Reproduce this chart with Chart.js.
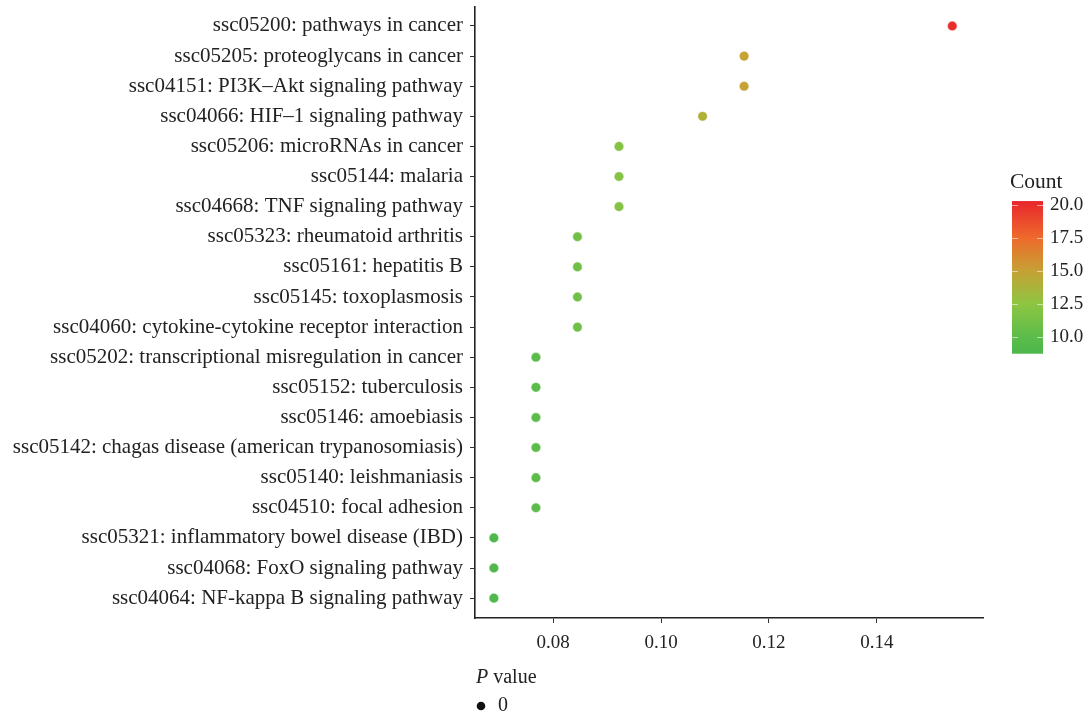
<!DOCTYPE html>
<html>
<head>
<meta charset="utf-8">
<script src="https://cdn.jsdelivr.net/npm/chart.js@4.4.1/dist/chart.umd.min.js"></script>
<style>
  html, body { margin: 0; padding: 0; background: #fff; }
  #wrap { position: relative; width: 1089px; height: 718px; }
  canvas { display: block; }
</style>
</head>
<body>
<div id="wrap"><canvas id="c" width="1089" height="718"></canvas></div>
<script>
// ---------------- DATA ----------------
const categories = [
  "ssc05200: pathways in cancer",
  "ssc05205: proteoglycans in cancer",
  "ssc04151: PI3K\u2013Akt signaling pathway",
  "ssc04066: HIF\u20131 signaling pathway",
  "ssc05206: microRNAs in cancer",
  "ssc05144: malaria",
  "ssc04668: TNF signaling pathway",
  "ssc05323: rheumatoid arthritis",
  "ssc05161: hepatitis B",
  "ssc05145: toxoplasmosis",
  "ssc04060: cytokine-cytokine receptor interaction",
  "ssc05202: transcriptional misregulation in cancer",
  "ssc05152: tuberculosis",
  "ssc05146: amoebiasis",
  "ssc05142: chagas disease (american trypanosomiasis)",
  "ssc05140: leishmaniasis",
  "ssc04510: focal adhesion",
  "ssc05321: inflammatory bowel disease (IBD)",
  "ssc04068: FoxO signaling pathway",
  "ssc04064: NF-kappa B signaling pathway"
];
const xValues = [0.1540, 0.1154, 0.1154, 0.1077, 0.0922, 0.0922, 0.0922, 0.0845, 0.0845, 0.0845, 0.0845,
                 0.0768, 0.0768, 0.0768, 0.0768, 0.0768, 0.0768, 0.0690, 0.0690, 0.0690];
const counts = [20, 15, 15, 14, 12, 12, 12, 11, 11, 11, 11, 10, 10, 10, 10, 10, 10, 9, 9, 9];
const xTickValues = [0.08, 0.10, 0.12, 0.14];
const countTicks = [20.0, 17.5, 15.0, 12.5, 10.0];
const colorStopValues = [8.7, 10, 12.5, 15, 17.5, 20.3];
const colorStopColors = ["#4cb74d", "#5cbc4a", "#8ec542", "#c6a134", "#ee6a2c", "#e8262c"];
const pLegendLabels = ["0"];

// ---------------- HELPERS ----------------
function hexToRgb(h) { const n = parseInt(h.slice(1), 16); return [(n >> 16) & 255, (n >> 8) & 255, n & 255]; }
function colorFor(v) {
  for (let i = 0; i < colorStopValues.length - 1; i++) {
    const a = colorStopValues[i], b = colorStopValues[i + 1];
    if (v <= b || i === colorStopValues.length - 2) {
      const t = Math.max(0, Math.min(1, (v - a) / (b - a)));
      const c1 = hexToRgb(colorStopColors[i]), c2 = hexToRgb(colorStopColors[i + 1]);
      const c = c1.map((x, k) => Math.round(x + (c2[k] - x) * t));
      return `rgb(${c[0]},${c[1]},${c[2]})`;
    }
  }
}

const FONT = "'Liberation Serif', 'DejaVu Serif', serif";
const TEXT = "#222";
Chart.defaults.font.family = FONT;
Chart.defaults.font.size = 19;
Chart.defaults.color = TEXT;

const points = xValues.map((x, i) => ({ x: x, y: i }));
const pointColors = counts.map(colorFor);

// Legend plugin: colour bar for Count and P value key
const legendPlugin = {
  id: 'legends',
  afterDraw(chart) {
    const ctx = chart.ctx;
    ctx.save();
    // Count colour bar
    const barX = 1012, barW = 31;
    const v2y = v => 205 + (20 - v) * 13.16;
    const top = v2y(colorStopValues[colorStopValues.length - 1]);
    const bot = v2y(colorStopValues[0]);
    const g = ctx.createLinearGradient(0, bot, 0, top);
    colorStopValues.forEach((v, i) => g.addColorStop((v - colorStopValues[0]) / (colorStopValues[colorStopValues.length - 1] - colorStopValues[0]), colorStopColors[i]));
    ctx.fillStyle = g;
    ctx.fillRect(barX, top, barW, bot - top);
    ctx.strokeStyle = 'rgba(255,255,255,0.55)';
    ctx.lineWidth = 1;
    countTicks.forEach(v => {
      const y = Math.round(v2y(v)) + 0.5;
      ctx.beginPath();
      ctx.moveTo(barX, y); ctx.lineTo(barX + 6, y);
      ctx.moveTo(barX + barW - 6, y); ctx.lineTo(barX + barW, y);
      ctx.stroke();
    });
    ctx.fillStyle = TEXT;
    ctx.textBaseline = 'middle';
    ctx.textAlign = 'left';
    ctx.font = `21.5px ${FONT}`;
    ctx.fillText('Count', 1010, 182);
    ctx.font = `19px ${FONT}`;
    countTicks.forEach(v => ctx.fillText(v.toFixed(1), 1050, v2y(v)));

    // P value legend
    ctx.font = `italic 20px ${FONT}`;
    const pw = ctx.measureText('P').width;
    ctx.fillText('P', 476, 678);
    ctx.font = `20px ${FONT}`;
    ctx.fillText(' value', 476 + pw, 678);
    pLegendLabels.forEach((lab, i) => {
      const y = 706 + i * 26;
      ctx.beginPath();
      ctx.arc(481, y, 4.3, 0, Math.PI * 2);
      ctx.fillStyle = '#111';
      ctx.fill();
      ctx.fillStyle = TEXT;
      ctx.fillText(lab, 498, y);
    });
    ctx.restore();
  }
};

new Chart(document.getElementById('c'), {
  type: 'scatter',
  data: {
    datasets: [{
      data: points,
      pointRadius: 4.3,
      pointHoverRadius: 4.3,
      pointBackgroundColor: pointColors,
      pointBorderColor: pointColors.map(c => c.replace('rgb', 'rgba').replace(')', ',0.45)')),
      pointBorderWidth: 1.2
    }]
  },
  options: {
    responsive: false,
    animation: false,
    events: [],
    layout: { padding: { left: 0, right: 106, top: 7, bottom: 50 } },
    plugins: { legend: { display: false }, tooltip: { enabled: false } },
    scales: {
      x: {
        type: 'linear',
        min: 0.0655,
        max: 0.1597,
        afterBuildTicks: s => { s.ticks = xTickValues.map(v => ({ value: v })); },
        afterFit: s => { s.height = 50; s.paddingLeft = 0; s.paddingRight = 0; },
        ticks: { callback: v => v.toFixed(2), padding: 9, font: { size: 19 }, color: TEXT },
        grid: { drawOnChartArea: false, drawTicks: true, tickLength: 5, color: '#333', lineWidth: 1 },
        border: { display: true, color: '#222', width: 1.6 }
      },
      y: {
        type: 'linear',
        reverse: true,
        min: -0.63,
        max: 19.66,
        afterBuildTicks: s => { s.ticks = categories.map((c, i) => ({ value: i })); },
        afterFit: s => { s.width = 475; s.paddingTop = 0; s.paddingBottom = 0; },
        ticks: { callback: v => categories[v], padding: 7, font: { size: 21 }, color: TEXT, autoSkip: false },
        grid: { drawOnChartArea: false, drawTicks: true, tickLength: 5, color: '#333', lineWidth: 1 },
        border: { display: true, color: '#222', width: 1.6 }
      }
    }
  },
  plugins: [legendPlugin]
});
</script>
</body>
</html>
